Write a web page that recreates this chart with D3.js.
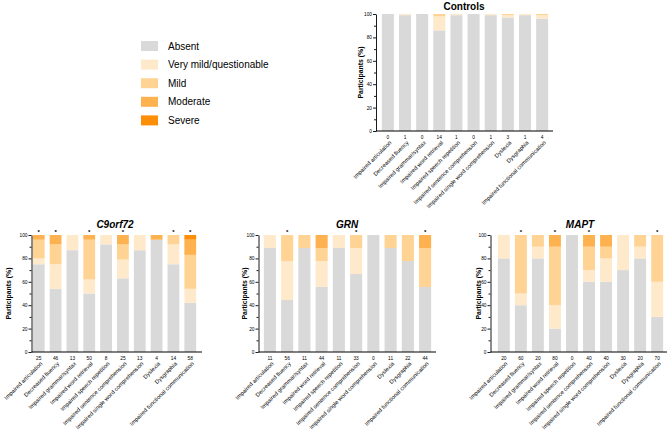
<!DOCTYPE html>
<html>
<head>
<meta charset="utf-8">
<script src="https://cdn.jsdelivr.net/npm/d3@7"></script>
<style>
  body { margin: 0; background: #fff; }
  text { font-family: Arial, "Liberation Sans", sans-serif; }
</style>
</head>
<body>
<svg id="chart" width="668" height="433"></svg>
<script>
const categories = [
  "Impaired articulation", "Decreased fluency", "Impaired grammar/syntax",
  "Impaired word retrieval", "Impaired speech repetition", "Impaired sentence comprehension",
  "Impaired single word comprehension", "Dyslexia", "Dysgraphia",
  "Impaired functional communication"
];
const severity = ["Absent", "Very mild/questionable", "Mild", "Moderate", "Severe"];
const colors = ["#d9d9d9", "#fee9cb", "#fed393", "#fdb14f", "#fd8e08"];

// each row: Absent, Very mild, Mild, Moderate, Severe (% participants)
const controlsN = [0, 1, 0, 14, 1, 0, 1, 3, 1, 4];
const controlsStars = [];
const controlsData = [
  [100, 0, 0, 0, 0], [99, 1, 0, 0, 0], [100, 0, 0, 0, 0], [86, 12, 2, 0, 0], [99, 1, 0, 0, 0],
  [100, 0, 0, 0, 0], [99, 1, 0, 0, 0], [97, 2, 1, 0, 0], [99, 1, 0, 0, 0], [96, 3, 1, 0, 0]
];

const c9N = [25, 46, 13, 50, 8, 25, 13, 4, 14, 58];
const c9Stars = [0, 1, 3, 5, 8, 9];
const c9Data = [
  [75, 5, 16, 4, 0], [54, 21, 17, 8, 0], [87, 13, 0, 0, 0], [50, 12, 34, 4, 0], [92, 8, 0, 0, 0],
  [63, 16, 13, 8, 0], [87, 13, 0, 0, 0], [96, 0, 0, 4, 0], [75, 17, 8, 0, 0], [42, 12, 29, 13, 4]
];

const grnN = [11, 56, 11, 44, 11, 33, 0, 11, 22, 44];
const grnStars = [1, 5, 9];
const grnData = [
  [88.9, 11.1, 0, 0, 0], [44.4, 33.3, 22.2, 0, 0], [88.9, 0, 11.1, 0, 0], [55.6, 22.2, 11.1, 11.1, 0],
  [88.9, 11.1, 0, 0, 0], [66.7, 22.2, 11.1, 0, 0], [100, 0, 0, 0, 0], [88.9, 0, 11.1, 0, 0],
  [77.8, 0, 22.2, 0, 0], [55.6, 0, 33.3, 11.1, 0]
];

const maptN = [20, 60, 20, 80, 0, 40, 40, 30, 20, 70];
const maptStars = [1, 3, 5, 9];
const maptData = [
  [80, 20, 0, 0, 0], [40, 10, 50, 0, 0], [80, 10, 10, 0, 0], [20, 20, 50, 10, 0], [100, 0, 0, 0, 0],
  [60, 10, 20, 10, 0], [60, 20, 10, 10, 0], [70, 30, 0, 0, 0], [80, 10, 10, 0, 0], [30, 30, 40, 0, 0]
];

const svg = d3.select("#chart");

function panel(cfg, data, nLabels, stars) {
  const g = svg.append("g");
  const x = d3.scaleBand().domain(categories).range([cfg.b0, cfg.b1])
    .paddingInner(0.3).paddingOuter(0.05);
  const y = d3.scaleLinear().domain([0, 100]).range([cfg.yb, cfg.yt]);

  const rows = data.map((v, i) => {
    const o = { cat: categories[i] };
    severity.forEach((s, j) => o[s] = v[j]);
    return o;
  });
  const series = d3.stack().keys(severity)(rows);

  g.selectAll("g.layer").data(series).join("g")
    .attr("class", "layer")
    .attr("fill", (d, i) => colors[i])
    .selectAll("rect").data(d => d).join("rect")
    .attr("x", d => x(d.data.cat))
    .attr("width", x.bandwidth())
    .attr("y", d => y(d[1]))
    .attr("height", d => y(d[0]) - y(d[1]));

  // y axis, major + minor ticks
  const ya = g.append("g").attr("transform", `translate(${cfg.ax0},0)`)
    .call(d3.axisLeft(y).tickValues([0, 20, 40, 60, 80, 100]).tickSize(3).tickSizeOuter(0).tickPadding(1));
  g.append("g").attr("transform", `translate(${cfg.ax0},0)`)
    .call(d3.axisLeft(y).tickValues([10, 30, 50, 70, 90]).tickSize(2).tickFormat(""))
    .select(".domain").remove();
  ya.selectAll("text").attr("font-size", 4.8).attr("font-family", "Arial, 'Liberation Sans', sans-serif");
  g.selectAll(".tick line, .domain").attr("stroke", "#000").attr("stroke-width", 0.9);

  // x axis line
  g.append("line")
    .attr("x1", cfg.ax0).attr("x2", cfg.ax1)
    .attr("y1", y(0)).attr("y2", y(0))
    .attr("stroke", "#000").attr("stroke-width", 1);

  // n labels under bars
  g.selectAll("text.n").data(categories).join("text")
    .attr("class", "n")
    .attr("x", d => x(d) + x.bandwidth() / 2)
    .attr("y", y(0) + 8)
    .attr("text-anchor", "middle")
    .attr("font-size", 4.8)
    .text((d, i) => nLabels[i]);

  // rotated category labels
  g.selectAll("text.cat").data(categories).join("text")
    .attr("class", "cat")
    .attr("text-anchor", "end")
    .attr("font-size", 5.7)
    .attr("transform", d => `translate(${x(d) + x.bandwidth() / 2 + 4},${y(0) + 12}) rotate(-45)`)
    .text(d => d);

  // significance stars
  g.selectAll("text.star").data(stars).join("text")
    .attr("class", "star")
    .attr("x", i => x(categories[i]) + x.bandwidth() / 2)
    .attr("y", y(100) - 1)
    .attr("text-anchor", "middle")
    .attr("font-size", 6)
    .attr("font-weight", "bold")
    .text("*");

  // title
  g.append("text")
    .attr("x", cfg.tx).attr("y", cfg.ty)
    .attr("text-anchor", "middle")
    .attr("font-size", 10)
    .attr("font-weight", "bold")
    .attr("font-style", cfg.italic ? "italic" : "normal")
    .text(cfg.title);

  // y label
  g.append("text")
    .attr("transform", `translate(${cfg.lx},${(cfg.yb + cfg.yt) / 2}) rotate(-90)`)
    .attr("text-anchor", "middle")
    .attr("font-size", 6.9)
    .attr("font-weight", "bold")
    .text("Participants (%)");
}

panel({ title: "Controls", italic: false, ax0: 376, ax1: 553, b0: 381, b1: 549, yb: 131, yt: 14, tx: 464, ty: 9.5, lx: 363 },
  controlsData, controlsN, controlsStars);
panel({ title: "C9orf72", italic: true, ax0: 31.5, ax1: 202, b0: 32, b1: 197, yb: 352, yt: 235, tx: 115, ty: 228, lx: 11 },
  c9Data, c9N, c9Stars);
panel({ title: "GRN", italic: true, ax0: 258.5, ax1: 436, b0: 263, b1: 432, yb: 352, yt: 235, tx: 347, ty: 228, lx: 247 },
  grnData, grnN, grnStars);
panel({ title: "MAPT", italic: true, ax0: 490.5, ax1: 667, b0: 497, b1: 664, yb: 352, yt: 235, tx: 580, ty: 228, lx: 480.5 },
  maptData, maptN, maptStars);

// legend
const legend = svg.append("g");
const lg = legend.selectAll("g").data(severity).join("g")
  .attr("transform", (d, i) => `translate(141,${41 + i * 18.6})`);
lg.append("rect").attr("width", 17).attr("height", 10).attr("fill", (d, i) => colors[i]);
lg.append("text").attr("x", 27).attr("y", 8.6).attr("font-size", 10).text(d => d);
</script>
</body>
</html>
